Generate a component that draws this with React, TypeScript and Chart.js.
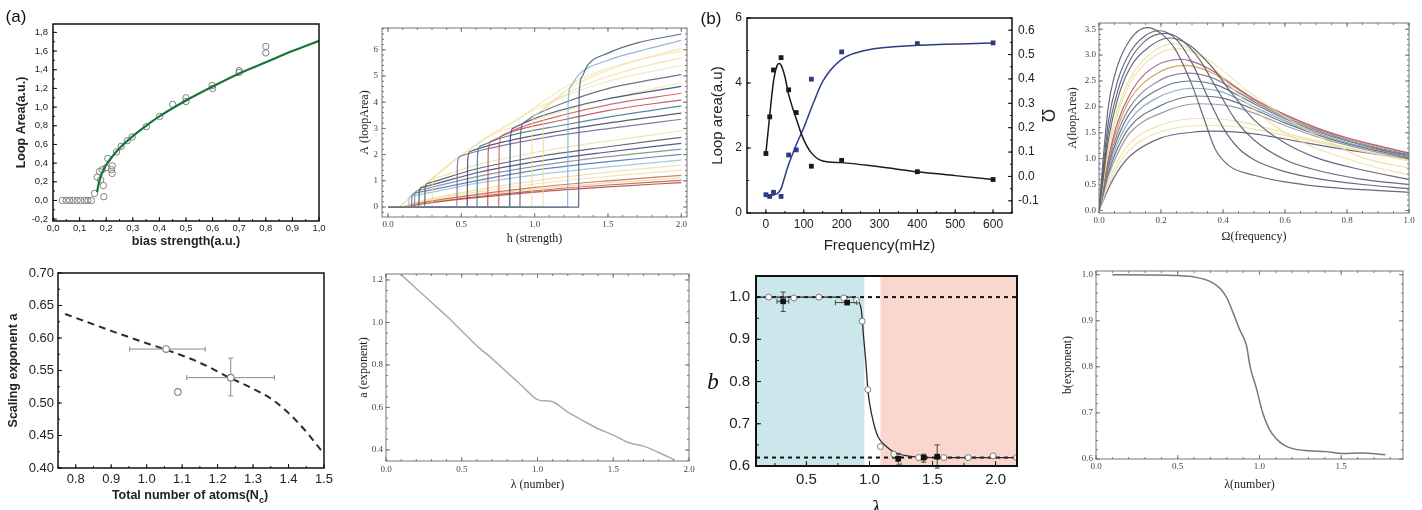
import React, { useEffect, useRef } from 'react';
import { Chart, registerables } from 'chart.js';

Chart.register(...registerables);

const SANS = "'Liberation Sans', Arial, Helvetica, sans-serif";
const SERIF = "'Liberation Serif', 'Times New Roman', Times, serif";

/* ================= Panel 1 : loop area vs bias strength ================= */
const p1XTicks = [0, 0.1, 0.2, 0.3, 0.4, 0.5, 0.6, 0.7, 0.8, 0.9, 1.0];
const p1XLabels = ['0,0', '0,1', '0,2', '0,3', '0,4', '0,5', '0,6', '0,7', '0,8', '0,9', '1,0'];
const p1YTicks = [-0.2, 0, 0.2, 0.4, 0.6, 0.8, 1.0, 1.2, 1.4, 1.6, 1.8];
const p1YLabels = ['-0,2', '0,0', '0,2', '0,4', '0,6', '0,8', '1,0', '1,2', '1,4', '1,6', '1,8'];
const p1PointX = [0.035, 0.05, 0.0625, 0.076, 0.091, 0.104, 0.119, 0.131, 0.144, 0.156, 0.166, 0.175, 0.179, 0.189, 0.191, 0.185, 0.2, 0.206, 0.2225, 0.2225, 0.22, 0.239, 0.256, 0.279, 0.2975, 0.351, 0.401, 0.45, 0.5, 0.5, 0.598, 0.6, 0.7, 0.7, 0.8, 0.8];
const p1PointY = [0, 0, 0, 0, 0, 0, 0, 0, 0, 0.075, 0.25, 0.31, 0.22, 0.16, 0.04, 0.33, 0.35, 0.45, 0.37, 0.29, 0.33, 0.52, 0.58, 0.64, 0.68, 0.79, 0.9, 1.03, 1.1, 1.06, 1.23, 1.2, 1.39, 1.37, 1.65, 1.58];
const p1FitX = [0.166, 0.17, 0.18, 0.19, 0.2, 0.22, 0.25, 0.3, 0.35, 0.4, 0.5, 0.6, 0.7, 0.8, 0.9, 1.0];
const p1FitY = [0.09, 0.16, 0.26, 0.33, 0.38, 0.46, 0.56, 0.69, 0.8, 0.9, 1.07, 1.22, 1.36, 1.48, 1.6, 1.71];

/* ================= Panel 2 : A(loopArea) vs h ================= */
const p2XTicks = [0, 0.5, 1.0, 1.5, 2.0];
const p2XLabels = ['0.0', '0.5', '1.0', '1.5', '2.0'];
const p2YTicks = [0, 1, 2, 3, 4, 5, 6];
const p2YLabels = ['0', '1', '2', '3', '4', '5', '6'];
const p2Series: number[][][] = [
  [[0, 0], [1.30, 0], [1.303, 4.2], [1.32, 4.95], [1.36, 5.4], [1.5, 5.87], [1.7, 6.26], [2.0, 6.6]],
  [[0, 0], [1.225, 0], [1.228, 3.9], [1.245, 4.6], [1.3, 5.05], [1.5, 5.6], [1.75, 6.0], [2.0, 6.36]],
  [[0, 0], [1.057, 0], [1.06, 3.2], [1.077, 3.8], [1.2, 4.4], [1.4, 5.0], [1.7, 5.6], [2.0, 6.05]],
  [[0, 0], [0.98, 0], [0.983, 3.0], [1.0, 3.5], [1.1, 3.95], [1.3, 4.55], [1.6, 5.15], [2.0, 5.7]],
  [[0, 0], [0.90, 0], [0.903, 2.7], [0.92, 3.2], [1.0, 3.5], [1.2, 3.98], [1.5, 4.52], [2.0, 5.05]],
  [[0, 0], [0.83, 0], [0.833, 2.55], [0.85, 3.0], [1.0, 3.38], [1.2, 3.73], [1.5, 4.13], [2.0, 4.6]],
  [[0, 0], [0.755, 0], [0.758, 2.3], [0.775, 2.72], [0.9, 3.03], [1.2, 3.52], [1.5, 3.9], [2.0, 4.34]],
  [[0, 0], [0.68, 0], [0.683, 2.1], [0.70, 2.5], [0.85, 2.88], [1.2, 3.33], [1.5, 3.68], [2.0, 4.09]],
  [[0, 0], [0.607, 0], [0.61, 1.95], [0.627, 2.32], [0.8, 2.68], [1.2, 3.13], [1.5, 3.43], [2.0, 3.86]],
  [[0, 0], [0.54, 0], [0.543, 1.78], [0.56, 2.12], [0.8, 2.5], [1.2, 2.93], [1.5, 3.2], [2.0, 3.58]],
  [[0, 0], [0.47, 0], [0.473, 1.6], [0.49, 1.93], [0.7, 2.25], [1.1, 2.68], [1.5, 2.99], [2.0, 3.35]],
  [[0, 0], [0.30, 0], [0.303, 0.9], [0.32, 1.1], [0.6, 1.6], [1.0, 2.08], [1.5, 2.52], [2.0, 2.9]],
  [[0, 0], [0.25, 0], [0.253, 0.72], [0.27, 0.9], [0.6, 1.45], [1.0, 1.9], [1.5, 2.3], [2.0, 2.66]],
  [[0, 0], [0.21, 0], [0.213, 0.6], [0.23, 0.75], [0.6, 1.3], [1.0, 1.72], [1.5, 2.1], [2.0, 2.43]],
  [[0, 0], [0.18, 0], [0.183, 0.5], [0.2, 0.63], [0.6, 1.15], [1.0, 1.55], [1.5, 1.92], [2.0, 2.21]],
  [[0, 0], [0.16, 0], [0.163, 0.42], [0.18, 0.53], [0.6, 1.0], [1.0, 1.4], [1.5, 1.73], [2.0, 2.01]],
  [[0, 0], [0.14, 0], [0.143, 0.33], [0.16, 0.42], [0.6, 0.9], [1.0, 1.22], [1.5, 1.53], [2.0, 1.79]],
  [[0, 0], [0.08, 0], [0.2, 0.2], [0.5, 0.55], [1.0, 1.0], [1.5, 1.33], [2.0, 1.6]],
  [[0, 0], [0.08, 0], [0.2, 0.17], [0.5, 0.48], [1.0, 0.88], [1.5, 1.17], [2.0, 1.41]],
  [[0, 0], [0.09, 0], [0.2, 0.14], [0.5, 0.4], [1.0, 0.75], [1.5, 1.0], [2.0, 1.21]],
  [[0, 0], [0.09, 0], [0.2, 0.12], [0.5, 0.37], [1.0, 0.68], [1.5, 0.92], [2.0, 1.11]],
  [[0, 0], [0.1, 0], [0.2, 0.1], [0.5, 0.33], [1.0, 0.62], [1.5, 0.84], [2.0, 1.02]],
  [[0, 0], [0.1, 0], [0.2, 0.09], [0.5, 0.3], [1.0, 0.57], [1.5, 0.77], [2.0, 0.93]],
  [[0, 0], [0.06, 0], [0.175, 0.5], [0.47, 1.85], [0.7, 2.75], [0.86, 3.26], [1.04, 3.96], [1.2, 4.55], [1.3, 4.85], [1.45, 5.2], [1.7, 5.6], [2.0, 5.95]],
  [[0, 0], [0.06, 0], [0.175, 0.5], [0.47, 1.85], [0.7, 2.75], [0.86, 3.26], [1.0, 3.72], [1.2, 4.22], [1.5, 4.8], [2.0, 5.4]],
  [[0, 0], [0.06, 0], [0.175, 0.5], [0.47, 1.85], [0.7, 2.72], [0.9, 3.15], [1.2, 3.68], [1.6, 4.25], [2.0, 4.75]],
];
const p2Colors = [
  'rgba(78,90,118,0.9)', 'rgba(130,170,205,0.85)', 'rgba(236,220,150,0.75)', 'rgba(236,220,150,0.75)',
  'rgba(95,100,112,0.9)', 'rgba(52,72,120,0.9)', 'rgba(196,86,96,0.85)', 'rgba(190,70,70,0.85)',
  'rgba(60,115,140,0.85)', 'rgba(70,75,95,0.9)', 'rgba(115,95,150,0.85)', 'rgba(236,220,150,0.75)',
  'rgba(85,88,100,0.9)', 'rgba(55,75,120,0.9)', 'rgba(130,130,130,0.85)', 'rgba(65,115,170,0.85)',
  'rgba(150,190,215,0.85)', 'rgba(236,220,150,0.75)', 'rgba(236,220,150,0.75)', 'rgba(200,95,85,0.85)',
  'rgba(236,215,140,0.8)', 'rgba(195,80,75,0.85)', 'rgba(170,60,60,0.85)', 'rgba(238,225,160,0.7)',
  'rgba(238,225,160,0.7)', 'rgba(238,225,160,0.7)',
];

/* ================= Panel 3 : loop area & Q vs frequency ================= */
const p3XTicks = [0, 100, 200, 300, 400, 500, 600];
const p3XLabels = ['0', '100', '200', '300', '400', '500', '600'];
const p3YTicks = [0, 2, 4, 6];
const p3YLabels = ['0', '2', '4', '6'];
const p3Y2Ticks = [-0.1, 0, 0.1, 0.2, 0.3, 0.4, 0.5, 0.6];
const p3Y2Labels = ['-0.1', '0.0', '0.1', '0.2', '0.3', '0.4', '0.5', '0.6'];
const p3Freq = [0, 10, 20, 40, 60, 80, 120, 200, 400, 600];
const p3Area = [1.83, 2.96, 4.40, 4.78, 3.79, 3.09, 1.44, 1.62, 1.27, 1.03];
const p3Q = [-0.075, -0.082, -0.065, -0.082, 0.088, 0.109, 0.399, 0.511, 0.545, 0.548];
const p3AreaFitX = [0, 10, 20, 30, 35, 40, 50, 60, 70, 80, 90, 100, 120, 150, 200, 300, 400, 500, 600];
const p3AreaFitY = [1.85, 3.0, 4.05, 4.55, 4.6, 4.55, 4.2, 3.65, 3.25, 2.9, 2.55, 2.25, 1.85, 1.6, 1.55, 1.42, 1.27, 1.15, 1.03];
const p3QFitX = [0, 10, 20, 30, 40, 50, 60, 70, 80, 100, 125, 150, 200, 265, 400, 600];
const p3QFitY = [-0.075, -0.078, -0.076, -0.07, -0.05, 0.0, 0.05, 0.09, 0.13, 0.2, 0.3, 0.39, 0.48, 0.518, 0.538, 0.547];

/* ================= Panel 4 : A(loopArea) vs Omega ================= */
const p4XTicks = [0, 0.2, 0.4, 0.6, 0.8, 1.0];
const p4XLabels = ['0.0', '0.2', '0.4', '0.6', '0.8', '1.0'];
const p4YTicks = [0, 0.5, 1.0, 1.5, 2.0, 2.5, 3.0, 3.5];
const p4YLabels = ['0.0', '0.5', '1.0', '1.5', '2.0', '2.5', '3.0', '3.5'];
const p4Series: number[][][] = [
  [[0, 0], [0.01, 0.75], [0.03, 2.0], [0.05, 2.6], [0.09, 3.2], [0.155, 3.53], [0.2, 3.42], [0.245, 3.12], [0.3, 2.42], [0.34, 1.75], [0.375, 1.18], [0.42, 0.86], [0.5, 0.68], [0.6, 0.55], [0.7, 0.47], [0.85, 0.4], [1.0, 0.35]],
  [[0, 0], [0.01, 0.6], [0.03, 1.7], [0.06, 2.5], [0.1, 3.05], [0.15, 3.38], [0.195, 3.47], [0.25, 3.3], [0.3, 2.85], [0.35, 2.2], [0.4, 1.6], [0.45, 1.2], [0.5, 0.98], [0.6, 0.75], [0.7, 0.62], [0.85, 0.5], [1.0, 0.42]],
  [[0, 0], [0.01, 0.5], [0.03, 1.5], [0.06, 2.3], [0.1, 2.9], [0.15, 3.28], [0.21, 3.42], [0.26, 3.32], [0.32, 2.95], [0.38, 2.35], [0.44, 1.75], [0.5, 1.36], [0.6, 0.98], [0.7, 0.78], [0.85, 0.6], [1.0, 0.5]],
  [[0, 0], [0.01, 0.45], [0.03, 1.35], [0.06, 2.15], [0.1, 2.75], [0.16, 3.15], [0.228, 3.33], [0.29, 3.2], [0.36, 2.8], [0.43, 2.25], [0.5, 1.75], [0.6, 1.3], [0.7, 1.02], [0.85, 0.78], [1.0, 0.6]],
  [[0, 0], [0.01, 0.4], [0.03, 1.2], [0.06, 1.95], [0.1, 2.55], [0.16, 3.0], [0.24, 3.22], [0.3, 3.1], [0.37, 2.75], [0.44, 2.3], [0.5, 1.95], [0.6, 1.5], [0.7, 1.2], [0.8, 1.0], [0.9, 0.82], [1.0, 0.69]],
  [[0, 0], [0.01, 0.38], [0.03, 1.1], [0.06, 1.85], [0.1, 2.45], [0.16, 2.9], [0.25, 3.12], [0.32, 3.02], [0.4, 2.7], [0.47, 2.35], [0.55, 2.0], [0.65, 1.62], [0.75, 1.3], [0.85, 1.02], [1.0, 0.82]],
  [[0, 0], [0.01, 0.35], [0.03, 1.0], [0.06, 1.7], [0.1, 2.25], [0.16, 2.7], [0.265, 2.92], [0.35, 2.75], [0.45, 2.35], [0.5, 2.15], [0.6, 1.85], [0.7, 1.6], [0.8, 1.4], [0.9, 1.25], [1.0, 1.11]],
  [[0, 0], [0.01, 0.33], [0.03, 0.95], [0.06, 1.6], [0.1, 2.15], [0.17, 2.58], [0.275, 2.8], [0.36, 2.67], [0.45, 2.33], [0.5, 2.13], [0.6, 1.83], [0.7, 1.58], [0.8, 1.38], [0.9, 1.23], [1.0, 1.10]],
  [[0, 0], [0.01, 0.3], [0.03, 0.9], [0.06, 1.5], [0.1, 2.0], [0.17, 2.42], [0.285, 2.65], [0.37, 2.55], [0.45, 2.28], [0.5, 2.1], [0.6, 1.8], [0.7, 1.56], [0.8, 1.36], [0.9, 1.21], [1.0, 1.08]],
  [[0, 0], [0.01, 0.28], [0.03, 0.85], [0.06, 1.4], [0.1, 1.88], [0.18, 2.3], [0.29, 2.5], [0.38, 2.42], [0.45, 2.22], [0.5, 2.06], [0.6, 1.77], [0.7, 1.53], [0.8, 1.34], [0.9, 1.19], [1.0, 1.06]],
  [[0, 0], [0.01, 0.26], [0.03, 0.78], [0.06, 1.3], [0.1, 1.75], [0.18, 2.15], [0.30, 2.36], [0.39, 2.3], [0.45, 2.15], [0.5, 2.0], [0.6, 1.73], [0.7, 1.5], [0.8, 1.31], [0.9, 1.17], [1.0, 1.04]],
  [[0, 0], [0.01, 0.24], [0.03, 0.72], [0.06, 1.2], [0.1, 1.62], [0.19, 2.0], [0.31, 2.21], [0.4, 2.17], [0.5, 1.95], [0.6, 1.69], [0.7, 1.47], [0.8, 1.29], [0.9, 1.15], [1.0, 1.02]],
  [[0, 0], [0.01, 0.22], [0.03, 0.66], [0.06, 1.1], [0.1, 1.5], [0.2, 1.88], [0.32, 2.06], [0.42, 2.02], [0.5, 1.88], [0.6, 1.64], [0.7, 1.43], [0.8, 1.26], [0.9, 1.12], [1.0, 1.0]],
  [[0, 0], [0.01, 0.18], [0.03, 0.55], [0.06, 0.95], [0.1, 1.3], [0.2, 1.65], [0.33, 1.78], [0.45, 1.72], [0.55, 1.58], [0.65, 1.42], [0.75, 1.28], [0.85, 1.15], [1.0, 0.98]],
  [[0, 0], [0.01, 0.16], [0.03, 0.48], [0.06, 0.85], [0.1, 1.18], [0.2, 1.52], [0.35, 1.64], [0.47, 1.6], [0.6, 1.45], [0.7, 1.32], [0.8, 1.2], [0.9, 1.08], [1.0, 0.95]],
  [[0, 0], [0.01, 0.14], [0.03, 0.42], [0.06, 0.75], [0.1, 1.05], [0.2, 1.4], [0.3, 1.51], [0.38, 1.53], [0.5, 1.48], [0.6, 1.38], [0.7, 1.27], [0.8, 1.17], [0.9, 1.08], [1.0, 1.0]],
];
const p4Colors = [
  'rgba(85,90,110,0.9)', 'rgba(85,90,110,0.9)', 'rgba(85,90,110,0.9)', 'rgba(85,90,110,0.9)',
  'rgba(236,220,150,0.8)', 'rgba(236,220,150,0.8)', 'rgba(160,70,110,0.85)', 'rgba(205,150,70,0.85)',
  'rgba(120,110,140,0.85)', 'rgba(85,90,110,0.85)', 'rgba(110,160,190,0.85)', 'rgba(85,90,110,0.85)',
  'rgba(140,140,150,0.85)', 'rgba(236,220,150,0.8)', 'rgba(236,220,150,0.8)', 'rgba(85,90,110,0.9)',
];

/* ================= Panel 5 : scaling exponent a vs N ================= */
const p5XTicks = [0.8, 0.9, 1.0, 1.1, 1.2, 1.3, 1.4, 1.5];
const p5XLabels = ['0.8', '0.9', '1.0', '1.1', '1.2', '1.3', '1.4', '1.5'];
const p5YTicks = [0.40, 0.45, 0.50, 0.55, 0.60, 0.65, 0.70];
const p5YLabels = ['0.40', '0.45', '0.50', '0.55', '0.60', '0.65', '0.70'];
const p5LineX = [0.77, 0.9, 1.0, 1.06, 1.15, 1.23, 1.3, 1.36, 1.43, 1.5];
const p5LineY = [0.637, 0.611, 0.592, 0.581, 0.562, 0.540, 0.522, 0.503, 0.468, 0.422];
const p5PointX = [1.055, 1.088, 1.237];
const p5PointY = [0.583, 0.517, 0.539];
const p5XErrLo = [0.952, null, 1.113];
const p5XErrHi = [1.165, null, 1.36];
const p5YErrLo = [null, null, 0.511];
const p5YErrHi = [null, null, 0.569];

/* ================= Panel 6 : a (exponent) vs lambda ================= */
const p6XTicks = [0, 0.5, 1.0, 1.5, 2.0];
const p6XLabels = ['0.0', '0.5', '1.0', '1.5', '2.0'];
const p6YTicks = [0.4, 0.6, 0.8, 1.0, 1.2];
const p6YLabels = ['0.4', '0.6', '0.8', '1.0', '1.2'];
const p6X = [0.1, 0.2, 0.3, 0.4, 0.5, 0.6, 0.7, 0.8, 0.9, 0.95, 1.0, 1.05, 1.1, 1.2, 1.3, 1.4, 1.5, 1.6, 1.7, 1.8, 1.9];
const p6Y = [1.225, 1.16, 1.095, 1.03, 0.96, 0.89, 0.83, 0.765, 0.70, 0.665, 0.637, 0.631, 0.627, 0.578, 0.538, 0.5, 0.47, 0.435, 0.418, 0.388, 0.355];

/* ================= Panel 7 : b vs lambda (measured) ================= */
const p7XTicks = [0.5, 1.0, 1.5, 2.0];
const p7XLabels = ['0.5', '1.0', '1.5', '2.0'];
const p7YTicks = [0.6, 0.7, 0.8, 0.9, 1.0];
const p7YLabels = ['0.6', '0.7', '0.8', '0.9', '1.0'];
const p7BlueBand = [0.1, 0.96];
const p7RedBand = [1.087, 2.17];
const p7Plateaus = [1.0, 0.62];
const p7OpenX = [0.2, 0.4, 0.598, 0.796, 0.897, 0.942, 0.987, 1.087, 1.193, 1.39, 1.59, 1.783, 1.98, 2.167];
const p7OpenY = [1.0, 0.998, 1.0, 0.998, 0.992, 0.943, 0.781, 0.646, 0.628, 0.62, 0.62, 0.62, 0.624, 0.62];
const p7FilledX = [0.315, 0.823, 1.228, 1.43, 1.537];
const p7FilledY = [0.99, 0.987, 0.617, 0.62, 0.622];
const p7XErrLo = [0.267, 0.73, null, null, null];
const p7XErrHi = [0.36, 0.9, null, null, null];
const p7YErrLo = [0.966, null, 0.602, 0.609, 0.595];
const p7YErrHi = [1.012, null, 0.63, 0.628, 0.65];
const p7FitX = [0.1, 0.5, 0.87, 0.91, 0.935, 0.955, 0.97, 0.98, 0.987, 1.0, 1.034, 1.07, 1.127, 1.2, 1.3, 1.5, 2.17];
const p7FitY = [1.0, 1.0, 1.0, 0.99, 0.97, 0.9, 0.85, 0.81, 0.781, 0.75, 0.7, 0.668, 0.648, 0.632, 0.624, 0.62, 0.62];

/* ================= Panel 8 : b (exponent) vs lambda ================= */
const p8XTicks = [0, 0.5, 1.0, 1.5];
const p8XLabels = ['0.0', '0.5', '1.0', '1.5'];
const p8YTicks = [0.6, 0.7, 0.8, 0.9, 1.0];
const p8YLabels = ['0.6', '0.7', '0.8', '0.9', '1.0'];
const p8X = [0.1, 0.3, 0.5, 0.6, 0.7, 0.76, 0.8, 0.84, 0.88, 0.92, 0.943, 0.98, 1.02, 1.06, 1.1, 1.15, 1.21, 1.3, 1.41, 1.51, 1.62, 1.77];
const p8Y = [1.0, 0.9995, 0.998, 0.995, 0.985, 0.97, 0.95, 0.916, 0.88, 0.847, 0.8, 0.755, 0.70, 0.665, 0.645, 0.63, 0.622, 0.618, 0.616, 0.612, 0.613, 0.609];

/* ================= helpers ================= */
const xy = (xs: number[], ys: number[]) => xs.map((x, i) => ({ x, y: ys[i] }));
const pairs = (arr: number[][]) => arr.map(([x, y]) => ({ x, y }));
const errs = (lo1: any[], hi1: any[], lo2: any[], hi2: any[]) =>
  lo1.map((_v, i) => ({ xm: lo1[i], xp: hi1[i], ym: lo2[i], yp: hi2[i] }));

function lin(o: any) {
  return {
    type: 'linear',
    position: o.pos,
    min: o.min,
    max: o.max,
    afterBuildTicks: (s: any) => {
      s.ticks = o.ticks.map((v: number) => ({ value: v }));
    },
    afterFit: (s: any) => {
      if (o.pos === 'bottom') s.height = o.size;
      else s.width = o.size;
    },
    grid: { display: false, drawTicks: false },
    border: { display: false },
    ticks: {
      font: o.font,
      color: o.color,
      padding: o.pad,
      autoSkip: false,
      maxRotation: 0,
      minRotation: 0,
      callback: (_v: any, i: number) => o.labels[i],
    },
    title: o.title
      ? { display: true, text: o.title, font: o.tfont, color: o.tcolor || o.color, padding: o.tpad }
      : { display: false },
  };
}

function minorVals(sc: any, step: number) {
  const out: number[] = [];
  if (!step) return out;
  let k = Math.ceil((sc.min - 1e-9) / step);
  while (k * step <= sc.max + 1e-9) {
    out.push(k * step);
    k++;
  }
  return out;
}

const framePlugin = {
  id: 'frame',
  afterDatasetsDraw(chart: any, _a: any, o: any) {
    const { ctx, chartArea: a, scales } = chart;
    const len = o.len ?? 4;
    const mlen = o.minorLen ?? 2;
    ctx.save();
    ctx.strokeStyle = o.color;
    ctx.lineWidth = o.tickWidth ?? 1;
    ctx.beginPath();
    const xs = scales.x;
    const drawX = (vals: number[], l: number) => {
      for (const v of vals) {
        const p = xs.getPixelForValue(v);
        if (p < a.left - 0.5 || p > a.right + 0.5) continue;
        ctx.moveTo(p, a.bottom);
        ctx.lineTo(p, a.bottom - l);
        if (o.mirror) {
          ctx.moveTo(p, a.top);
          ctx.lineTo(p, a.top + l);
        }
      }
    };
    const drawY = (sc: any, vals: number[], l: number, left: boolean, right: boolean) => {
      for (const v of vals) {
        const p = sc.getPixelForValue(v);
        if (p < a.top - 0.5 || p > a.bottom + 0.5) continue;
        if (left) {
          ctx.moveTo(a.left, p);
          ctx.lineTo(a.left + l, p);
        }
        if (right) {
          ctx.moveTo(a.right, p);
          ctx.lineTo(a.right - l, p);
        }
      }
    };
    drawX(xs.ticks.map((t: any) => t.value), len);
    drawX(minorVals(xs, o.xMinor), mlen);
    const ys = scales.y;
    const hasY2 = !!scales.y2;
    drawY(ys, ys.ticks.map((t: any) => t.value), len, true, !!o.mirror && !hasY2);
    drawY(ys, minorVals(ys, o.yMinor), mlen, true, !!o.mirror && !hasY2);
    if (hasY2) {
      const y2 = scales.y2;
      drawY(y2, y2.ticks.map((t: any) => t.value), len, false, true);
      drawY(y2, minorVals(y2, o.y2Minor), mlen, false, true);
    }
    ctx.stroke();
    ctx.lineWidth = o.width;
    ctx.strokeRect(a.left, a.top, a.right - a.left, a.bottom - a.top);
    ctx.restore();
  },
};

const bandPlugin = {
  id: 'bands',
  beforeDatasetsDraw(chart: any, _a: any, o: any) {
    if (!o || !o.bands) return;
    const { ctx, chartArea: a, scales } = chart;
    ctx.save();
    for (const b of o.bands) {
      const l = Math.max(a.left, scales.x.getPixelForValue(b.range[0]));
      const r = Math.min(a.right, scales.x.getPixelForValue(b.range[1]));
      ctx.fillStyle = b.color;
      ctx.fillRect(l, a.top, r - l, a.bottom - a.top);
    }
    ctx.restore();
  },
};

const errPlugin = {
  id: 'errbars',
  beforeDatasetDraw(chart: any, args: any) {
    const ds = chart.data.datasets[args.index];
    if (!ds.errs) return;
    const meta = args.meta;
    const xs = chart.scales[meta.xAxisID];
    const ys = chart.scales[meta.yAxisID];
    const ctx = chart.ctx;
    const cap = 2.5;
    ctx.save();
    ctx.strokeStyle = ds.errColor || '#555';
    ctx.lineWidth = 1;
    ctx.beginPath();
    ds.errs.forEach((e: any, i: number) => {
      const p = ds.data[i];
      const px = xs.getPixelForValue(p.x);
      const py = ys.getPixelForValue(p.y);
      if (e.xm != null) {
        const l = xs.getPixelForValue(e.xm);
        const r = xs.getPixelForValue(e.xp);
        ctx.moveTo(l, py); ctx.lineTo(r, py);
        ctx.moveTo(l, py - cap); ctx.lineTo(l, py + cap);
        ctx.moveTo(r, py - cap); ctx.lineTo(r, py + cap);
      }
      if (e.ym != null) {
        const t = ys.getPixelForValue(e.yp);
        const b = ys.getPixelForValue(e.ym);
        ctx.moveTo(px, t); ctx.lineTo(px, b);
        ctx.moveTo(px - cap, t); ctx.lineTo(px + cap, t);
        ctx.moveTo(px - cap, b); ctx.lineTo(px + cap, b);
      }
    });
    ctx.stroke();
    ctx.restore();
  },
};

function baseOptions(W: number, A: any, scales: any, plugins: any, rightAxis = false) {
  return {
    responsive: false,
    maintainAspectRatio: false,
    animation: false,
    devicePixelRatio: 1,
    events: [],
    layout: { padding: { left: 0, bottom: 0, top: A.t, right: rightAxis ? 0 : W - A.r } },
    plugins: { legend: { display: false }, tooltip: { enabled: false }, title: { display: false }, ...plugins },
    scales,
  };
}

const lineDs = (data: any, color: string, width: number, extra: any = {}) => ({
  data,
  borderColor: color,
  borderWidth: width,
  pointRadius: 0,
  fill: false,
  cubicInterpolationMode: 'monotone',
  ...extra,
});

/* ---------- builders ---------- */
function build1(W: number, H: number) {
  const A = { l: 53, t: 24, r: 319, b: 221 };
  const tf = { family: SANS, size: 9.5 };
  const ttl = { family: SANS, size: 12.5, weight: 'bold' };
  return {
    type: 'line',
    data: {
      datasets: [
        lineDs(xy(p1FitX, p1FitY), '#17753b', 2.2),
        {
          data: xy(p1PointX, p1PointY), showLine: false, pointRadius: 3.2, pointBorderWidth: 1,
          pointBorderColor: '#808080', pointBackgroundColor: 'rgba(255,255,255,0)',
        },
      ],
    },
    options: baseOptions(W, A, {
      x: lin({ pos: 'bottom', min: 0, max: 1, ticks: p1XTicks, labels: p1XLabels, size: H - A.b, font: tf, color: '#222', pad: 2, title: 'bias strength(a.u.)', tfont: ttl, tpad: { bottom: 6, top: 0 } }),
      y: lin({ pos: 'left', min: -0.22, max: 1.89, ticks: p1YTicks, labels: p1YLabels, size: A.l, font: tf, color: '#222', pad: 5, title: 'Loop Area(a.u.)', tfont: ttl, tpad: { top: 14.5, bottom: 0 } }),
    }, { frame: { color: '#111', width: 1.5, len: 4, minorLen: 2, xMinor: 0.05, yMinor: 0.1 } }),
    plugins: [framePlugin],
  };
}

function build2(W: number, H: number) {
  const A = { l: 27, t: 28, r: 332, b: 217 };
  const tf = { family: SERIF, size: 9 };
  const ttl = { family: SERIF, size: 12 };
  return {
    type: 'line',
    data: { datasets: p2Series.map((s, i) => lineDs(pairs(s), p2Colors[i], 1.2)) },
    options: baseOptions(W, A, {
      x: lin({ pos: 'bottom', min: -0.041, max: 2.039, ticks: p2XTicks, labels: p2XLabels, size: H - A.b, font: tf, color: '#444', pad: 2, title: 'h (strength)', tfont: ttl, tcolor: '#222', tpad: { bottom: 8.8, top: 0 } }),
      y: lin({ pos: 'left', min: -0.38, max: 6.83, ticks: p2YTicks, labels: p2YLabels, size: A.l, font: tf, color: '#444', pad: 4, title: 'A (loopArea)', tfont: ttl, tcolor: '#222', tpad: { top: 2.8, bottom: 0 } }),
    }, { frame: { color: '#777', width: 1, len: 4, minorLen: 2, xMinor: 0.1, yMinor: 0.2, mirror: true } }),
    plugins: [framePlugin],
  };
}

function build3(W: number, H: number) {
  const A = { l: 47, t: 18, r: 312, b: 213 };
  const tf = { family: SANS, size: 12 };
  const ttl = { family: SANS, size: 15 };
  return {
    type: 'line',
    data: {
      datasets: [
        { data: xy(p3Freq, p3Area), yAxisID: 'y', showLine: false, pointStyle: 'rect', pointRadius: 3.4, pointBorderWidth: 0, pointBackgroundColor: '#1a1a1a', pointBorderColor: '#1a1a1a' },
        { data: xy(p3Freq, p3Q), yAxisID: 'y2', showLine: false, pointStyle: 'rect', pointRadius: 3.4, pointBorderWidth: 0, pointBackgroundColor: '#2c3b85', pointBorderColor: '#2c3b85' },
        lineDs(xy(p3AreaFitX, p3AreaFitY), '#1a1a1a', 1.5, { yAxisID: 'y' }),
        lineDs(xy(p3QFitX, p3QFitY), '#2c3b85', 1.5, { yAxisID: 'y2' }),
      ],
    },
    options: baseOptions(W, A, {
      x: lin({ pos: 'bottom', min: -50, max: 650, ticks: p3XTicks, labels: p3XLabels, size: H - A.b, font: tf, color: '#222', pad: 4, title: 'Frequency(mHz)', tfont: ttl, tpad: { bottom: 0, top: 0 } }),
      y: lin({ pos: 'left', min: 0, max: 6, ticks: p3YTicks, labels: p3YLabels, size: A.l, font: tf, color: '#222', pad: 5, title: 'Loop area(a.u)', tfont: ttl, tpad: { top: 9, bottom: 0 } }),
      y2: lin({ pos: 'right', min: -0.15, max: 0.65, ticks: p3Y2Ticks, labels: p3Y2Labels, size: W - A.r, font: tf, color: '#222', pad: 6, title: 'Ω', tfont: { family: SANS, size: 18 }, tpad: { top: 2.5, bottom: 0 } }),
    }, { frame: { color: '#111', width: 1.5, len: 4, minorLen: 2, xMinor: 50, yMinor: 1, y2Minor: 0.05 } }, true),
    plugins: [framePlugin],
  };
}

function build4(W: number, H: number) {
  const A = { l: 39, t: 23, r: 349, b: 213 };
  const tf = { family: SERIF, size: 9 };
  const ttl = { family: SERIF, size: 12 };
  return {
    type: 'line',
    data: { datasets: p4Series.map((s, i) => lineDs(pairs(s), p4Colors[i], 1.2)) },
    options: baseOptions(W, A, {
      x: lin({ pos: 'bottom', min: 0, max: 1, ticks: p4XTicks, labels: p4XLabels, size: H - A.b, font: tf, color: '#444', pad: 2, title: 'Ω(frequency)', tfont: ttl, tcolor: '#222', tpad: { bottom: 10.8, top: 0 } }),
      y: lin({ pos: 'left', min: -0.05, max: 3.62, ticks: p4YTicks, labels: p4YLabels, size: A.l, font: tf, color: '#444', pad: 3, title: 'A(loopArea)', tfont: ttl, tcolor: '#222', tpad: { top: 5.5, bottom: 0 } }),
    }, { frame: { color: '#777', width: 1, len: 4, minorLen: 2, xMinor: 0.05, yMinor: 0.1, mirror: true } }),
    plugins: [framePlugin],
  };
}

function build5(W: number, H: number) {
  const A = { l: 58, t: 18, r: 324, b: 213 };
  const tf = { family: SANS, size: 13 };
  const ttl = { family: SANS, size: 12.5, weight: 'bold' };
  return {
    type: 'line',
    data: {
      datasets: [
        {
          data: xy(p5PointX, p5PointY), showLine: false, pointRadius: 3.3, pointBorderWidth: 1.2,
          pointBorderColor: '#8a8a8a', pointBackgroundColor: '#ffffff',
          errs: errs(p5XErrLo, p5XErrHi, p5YErrLo, p5YErrHi), errColor: '#8a8a8a',
        },
        lineDs(xy(p5LineX, p5LineY), '#2a2a3a', 2, { borderDash: [7, 5] }),
      ],
    },
    options: baseOptions(W, A, {
      x: lin({ pos: 'bottom', min: 0.75, max: 1.5, ticks: p5XTicks, labels: p5XLabels, size: H - A.b, font: tf, color: '#222', pad: 4 }),
      y: lin({ pos: 'left', min: 0.4, max: 0.7, ticks: p5YTicks, labels: p5YLabels, size: A.l, font: tf, color: '#222', pad: 4, title: 'Scaling exponent a', tfont: ttl, tpad: { top: 5.8, bottom: 0 } }),
    }, { frame: { color: '#111', width: 1.5, len: 4, minorLen: 2, xMinor: 0.05, yMinor: 0.025 } }),
    plugins: [framePlugin, errPlugin],
  };
}

function build6(W: number, H: number) {
  const A = { l: 31, t: 19, r: 334, b: 206 };
  const tf = { family: SERIF, size: 9 };
  const ttl = { family: SERIF, size: 12 };
  return {
    type: 'line',
    data: { datasets: [lineDs(xy(p6X, p6Y), '#ababab', 1.5)] },
    options: baseOptions(W, A, {
      x: lin({ pos: 'bottom', min: 0, max: 2.0, ticks: p6XTicks, labels: p6XLabels, size: H - A.b, font: tf, color: '#444', pad: 3, title: 'λ (number)', tfont: ttl, tcolor: '#222', tpad: { bottom: 17.8, top: 0 } }),
      y: lin({ pos: 'left', min: 0.348, max: 1.228, ticks: p6YTicks, labels: p6YLabels, size: A.l, font: tf, color: '#444', pad: 3, title: 'a (exponent)', tfont: ttl, tcolor: '#222', tpad: { top: 2.1, bottom: 0 } }),
    }, { frame: { color: '#777', width: 1, len: 4, minorLen: 2, xMinor: 0.1, yMinor: 0.05, mirror: true } }),
    plugins: [framePlugin],
  };
}

function build7(W: number, H: number) {
  const A = { l: 56, t: 21, r: 317, b: 211 };
  const tf = { family: SANS, size: 15 };
  const xmin = 0.1;
  const xmax = 2.17;
  return {
    type: 'line',
    data: {
      datasets: [
        {
          data: xy(p7FilledX, p7FilledY), showLine: false, pointStyle: 'rect', pointRadius: 4, pointBorderWidth: 0,
          pointBackgroundColor: '#111', pointBorderColor: '#111',
          errs: errs(p7XErrLo, p7XErrHi, p7YErrLo, p7YErrHi), errColor: '#444',
        },
        {
          data: xy(p7OpenX, p7OpenY), showLine: false, pointRadius: 3, pointBorderWidth: 1,
          pointBorderColor: '#7a7a7a', pointBackgroundColor: '#ffffff',
        },
        lineDs(xy(p7FitX, p7FitY), '#2b2b2b', 1.3),
        lineDs([{ x: xmin, y: p7Plateaus[0] }, { x: xmax, y: p7Plateaus[0] }], '#111', 2, { borderDash: [4, 4], cubicInterpolationMode: 'default' }),
        lineDs([{ x: xmin, y: p7Plateaus[1] }, { x: xmax, y: p7Plateaus[1] }], '#111', 2, { borderDash: [4, 4], cubicInterpolationMode: 'default' }),
      ],
    },
    options: baseOptions(W, A, {
      x: lin({ pos: 'bottom', min: xmin, max: xmax, ticks: p7XTicks, labels: p7XLabels, size: H - A.b, font: tf, color: '#222', pad: 5 }),
      y: lin({ pos: 'left', min: 0.6, max: 1.05, ticks: p7YTicks, labels: p7YLabels, size: A.l, font: tf, color: '#222', pad: 6 }),
    }, {
      frame: { color: '#111', width: 2, len: 5, minorLen: 3, xMinor: 0.25, yMinor: 0.05 },
      bands: { bands: [{ range: p7BlueBand, color: '#cce7eb' }, { range: p7RedBand, color: '#f9d7cf' }] },
    }),
    plugins: [bandPlugin, framePlugin, errPlugin],
  };
}

function build8(W: number, H: number) {
  const A = { l: 36, t: 16, r: 343, b: 204 };
  const tf = { family: SERIF, size: 9 };
  const ttl = { family: SERIF, size: 12 };
  return {
    type: 'line',
    data: { datasets: [lineDs(xy(p8X, p8Y), '#777777', 1.5)] },
    options: baseOptions(W, A, {
      x: lin({ pos: 'bottom', min: 0, max: 1.878, ticks: p8XTicks, labels: p8XLabels, size: H - A.b, font: tf, color: '#444', pad: 2, title: 'λ(number)', tfont: ttl, tcolor: '#222', tpad: { bottom: 17.8, top: 0 } }),
      y: lin({ pos: 'left', min: 0.6, max: 1.008, ticks: p8YTicks, labels: p8YLabels, size: A.l, font: tf, color: '#444', pad: 3, title: 'b(exponent)', tfont: ttl, tcolor: '#222', tpad: { top: 1.1, bottom: 0 } }),
    }, { frame: { color: '#777', width: 1, len: 4, minorLen: 2, xMinor: 0.1, yMinor: 0.02, mirror: true } }),
    plugins: [framePlugin],
  };
}

function ChartBox(props: { left: number; top: number; width: number; height: number; build: (w: number, h: number) => any }) {
  const ref = useRef<HTMLCanvasElement | null>(null);
  useEffect(() => {
    const chart = new Chart(ref.current as HTMLCanvasElement, props.build(props.width, props.height));
    return () => chart.destroy();
  }, []);
  return (
    <canvas
      ref={ref}
      width={props.width}
      height={props.height}
      style={{ position: 'absolute', left: props.left, top: props.top, width: props.width, height: props.height, display: 'block' }}
    />
  );
}

function Label(props: { x: number; y: number; style: any; children: any }) {
  return (
    <div
      style={{
        position: 'absolute', left: props.x, top: props.y, transform: 'translate(-50%, -50%)',
        whiteSpace: 'nowrap', lineHeight: 1, ...props.style,
      }}
    >
      {props.children}
    </div>
  );
}

export default function App() {
  return (
    <div style={{ position: 'absolute', left: 0, top: 0, width: 1422, height: 510, overflow: 'hidden', background: '#ffffff' }}>
      <ChartBox left={0} top={0} width={355} height={255} build={build1} />
      <ChartBox left={355} top={0} width={345} height={255} build={build2} />
      <ChartBox left={700} top={0} width={360} height={255} build={build3} />
      <ChartBox left={1060} top={0} width={362} height={255} build={build4} />
      <ChartBox left={0} top={255} width={355} height={255} build={build5} />
      <ChartBox left={355} top={255} width={345} height={255} build={build6} />
      <ChartBox left={700} top={255} width={360} height={255} build={build7} />
      <ChartBox left={1060} top={255} width={362} height={255} build={build8} />
      <Label x={16} y={16} style={{ fontFamily: SANS, fontSize: 17, color: '#111' }}>(a)</Label>
      <Label x={711} y={18} style={{ fontFamily: SANS, fontSize: 17, color: '#111' }}>(b)</Label>
      <Label x={190} y={497} style={{ fontFamily: SANS, fontSize: 12.5, fontWeight: 'bold', color: '#222' }}>
        Total number of atoms(N<sub style={{ fontSize: 9 }}>c</sub>)
      </Label>
      <Label x={713} y={381} style={{ fontFamily: SERIF, fontSize: 23, fontStyle: 'italic', color: '#111' }}>b</Label>
      <Label x={876} y={508} style={{ fontFamily: SERIF, fontSize: 21, fontStyle: 'italic', color: '#111' }}>λ</Label>
    </div>
  );
}
